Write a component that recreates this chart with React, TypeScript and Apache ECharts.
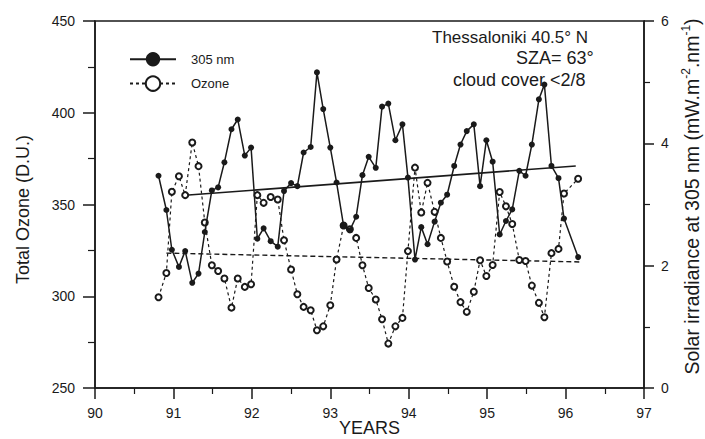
import React, { useEffect, useRef } from 'react';
import * as echarts from 'echarts';

const years = [
  90.81, 90.91, 90.98, 91.07, 91.15, 91.24, 91.32, 91.40, 91.49, 91.57, 91.65, 91.74,
  91.82, 91.91, 91.99, 92.07, 92.15, 92.24, 92.33, 92.41, 92.50, 92.58, 92.66, 92.75,
  92.83, 92.91, 93.00, 93.08, 93.17, 93.25, 93.33, 93.41, 93.49, 93.58, 93.66, 93.74,
  93.83, 93.92, 93.99, 94.08, 94.16, 94.24, 94.33, 94.41, 94.49, 94.58, 94.66, 94.74,
  94.83, 94.91, 94.99, 95.07, 95.16, 95.24, 95.32, 95.41, 95.49, 95.57, 95.66, 95.73,
  95.82, 95.91, 95.98, 96.16,
];

// Solar irradiance at 305 nm (mW m-2 nm-1), right axis
const irradiance305 = [
  3.47, 2.91, 2.26, 1.98, 2.24, 1.72, 1.87, 2.55, 3.23, 3.28, 3.69, 4.23,
  4.39, 3.80, 3.93, 2.44, 2.61, 2.40, 2.31, 3.22, 3.35, 3.30, 3.85, 3.94,
  5.16, 4.56, 3.93, 3.36, 2.65, 2.58, 2.80, 3.48, 3.78, 3.60, 4.60, 4.65,
  4.05, 4.31, 3.44, 2.10, 2.63, 2.35, 2.72, 3.03, 3.16, 3.63, 3.98, 4.20,
  4.31, 3.30, 4.05, 3.70, 2.51, 2.73, 2.92, 3.55, 3.47, 3.98, 4.72, 4.96,
  3.63, 3.43, 2.77, 2.14,
];

// Total ozone (D.U.), left axis
const ozone = [
  299.5, 312.7, 356.9, 365.4, 355.1, 383.8, 370.9, 340.2, 316.9, 313.8, 309.7, 293.8,
  309.7, 305.1, 306.5, 355.1, 350.9, 354.1, 352.7, 330.5, 314.6, 301.1, 294.2, 292.4,
  281.5, 283.6, 295.1, 320.0, 338.6, 336.5, 331.8, 316.9, 304.5, 298.2, 287.5, 274.2,
  283.6, 288.2, 324.6, 370.1, 345.6, 361.8, 346.0, 331.8, 318.9, 305.2, 296.8, 291.5,
  302.5, 319.6, 311.0, 317.0, 356.8, 349.0, 339.4, 319.8, 319.2, 305.8, 296.4, 288.6,
  323.5, 325.8, 356.0, 364.0,
];

// Linear trends
const trend305Years = [91.15, 96.13];
const trend305Values = [3.15, 3.63];
const trendOzoneYears = [90.91, 96.18];
const trendOzoneValues = [323.5, 318.7];

const seriesNames = ['305 nm', 'Ozone'];
const annotationLines = ['Thessaloniki 40.5° N', 'SZA= 63°', 'cloud cover <2/8'];

const FONT = "'Liberation Sans', Arial, Helvetica, sans-serif";
const INK = '#1a1a1a';

export default function App() {
  const ref = useRef<HTMLDivElement>(null);

  useEffect(() => {
    document.body.style.margin = '0';
    const chart = echarts.init(ref.current as HTMLDivElement, null, { renderer: 'svg' });

    const axisCommon = {
      axisLine: { show: true, lineStyle: { color: INK, width: 1.5 } },
      splitLine: { show: false },
    };

    const option: any = {
      animation: false,
      backgroundColor: '#ffffff',
      textStyle: { fontFamily: FONT, color: INK },
      grid: {
        left: 95, right: 61, top: 21, bottom: 51,
        outerBoundsMode: 'none',
        containLabel: false,
        show: true, borderColor: INK, borderWidth: 1.5,
      },
      legend: {
        data: seriesNames,
        orient: 'vertical',
        left: 124,
        top: 47,
        itemWidth: 46,
        itemHeight: 18,
        itemGap: 9,
        textStyle: { fontSize: 13, color: INK, fontFamily: FONT, padding: [0, 0, 0, 10] },
      },
      xAxis: {
        type: 'value',
        min: 90, max: 97, interval: 1,
        ...axisCommon,
        axisTick: { show: true, length: 11, lineStyle: { color: INK, width: 1.5 } },
        minorTick: { show: true, splitNumber: 2, length: 6, lineStyle: { color: INK, width: 1.2 } },
        axisLabel: { fontSize: 14, color: INK, margin: 18, fontFamily: FONT },
        name: 'YEARS',
        nameLocation: 'middle',
        nameGap: 31,
        nameMoveOverlap: false,
        nameTextStyle: { fontSize: 18, color: INK, fontFamily: FONT },
      },
      yAxis: [
        {
          type: 'value', position: 'left',
          min: 250, max: 450, interval: 50,
          ...axisCommon,
          axisTick: { show: true, length: 12, lineStyle: { color: INK, width: 1.5 } },
          minorTick: { show: true, splitNumber: 2, length: 7, lineStyle: { color: INK, width: 1.2 } },
          axisLabel: { fontSize: 14, color: INK, margin: 20, fontFamily: FONT },
          name: 'Total Ozone (D.U.)',
          nameLocation: 'middle',
          nameGap: 63,
          nameTextStyle: { fontSize: 18, color: INK, fontFamily: FONT, padding: [0, 10, 0, 0] },
        },
        {
          type: 'value', position: 'right',
          min: 0, max: 6, interval: 2,
          ...axisCommon,
          axisTick: { show: true, length: 10, lineStyle: { color: INK, width: 1.5 } },
          minorTick: { show: true, splitNumber: 2, length: 6, lineStyle: { color: INK, width: 1.2 } },
          axisLabel: { fontSize: 14, color: INK, margin: 17, fontFamily: FONT },
          name: '{a|Solar irradiance at 305 nm (mW.m}{s|-2}{a|.nm}{s|-1}{a|)}',
          nameLocation: 'middle',
          nameGap: 33,
          nameTextStyle: {
            color: INK,
            padding: [0, 0, 0, 16],
            rich: {
              a: { fontSize: 19.5, lineHeight: 24, color: INK, fontFamily: FONT },
              s: { fontSize: 12, lineHeight: 12, verticalAlign: 'top', color: INK, fontFamily: FONT },
            },
          },
        },
      ],
      graphic: annotationLines.map((t, i) => ({
        type: 'text',
        x: [432, 516, 453][i],
        y: [37, 58, 80][i],
        silent: true,
        style: {
          text: t,
          fontSize: [17, 18, 18][i],
          fontFamily: FONT,
          fill: INK,
          verticalAlign: 'middle',
          align: 'left',
        },
      })),
      series: [
        {
          name: seriesNames[0],
          type: 'line',
          yAxisIndex: 1,
          data: years.map((y, i) => [y, irradiance305[i]]),
          symbol: 'circle',
          symbolSize: 6,
          itemStyle: { color: INK },
          lineStyle: { color: INK, width: 1.5 },
          z: 4,
        },
        {
          name: seriesNames[1],
          type: 'line',
          yAxisIndex: 0,
          data: years.map((y, i) => [y, ozone[i]]),
          symbol: 'emptyCircle',
          symbolSize: 6,
          itemStyle: { color: INK, borderWidth: 1.2 },
          lineStyle: { color: INK, width: 1.2, type: [3, 3] },
          z: 3,
        },
        {
          name: 'trend305',
          type: 'line',
          yAxisIndex: 1,
          data: trend305Years.map((y, i) => [y, trend305Values[i]]),
          symbol: 'none',
          lineStyle: { color: INK, width: 1.6 },
          z: 2,
        },
        {
          name: 'trendOzone',
          type: 'line',
          yAxisIndex: 0,
          data: trendOzoneYears.map((y, i) => [y, trendOzoneValues[i]]),
          symbol: 'none',
          lineStyle: { color: INK, width: 1.4, type: [5, 3] },
          z: 2,
        },
      ],
    };

    chart.setOption(option);
    return () => chart.dispose();
  }, []);

  return <div ref={ref} style={{ width: 705, height: 439 }} />;
}
